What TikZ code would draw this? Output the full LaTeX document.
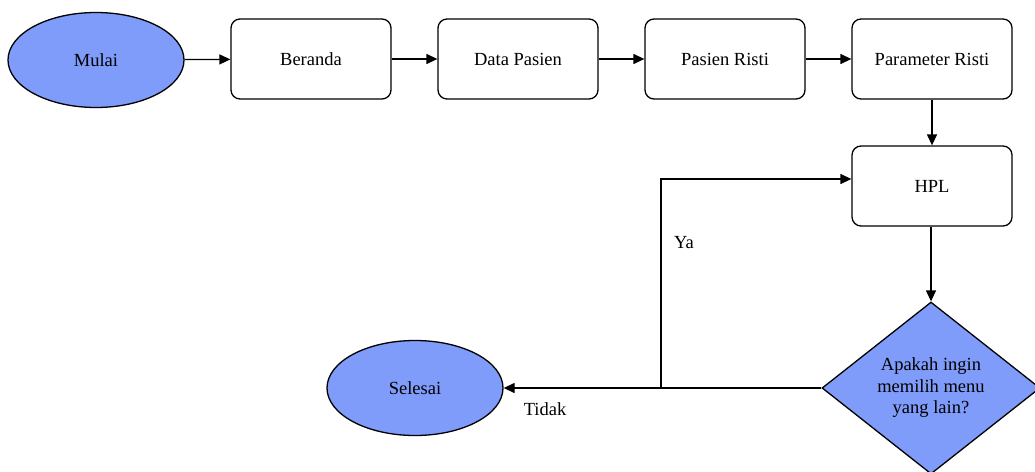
\documentclass[tikz,border=0pt]{standalone}
\usepackage{fontspec}
\setmainfont{Liberation Serif}
\usetikzlibrary{shapes.geometric,arrows.meta}
\definecolor{termblue}{RGB}{128,156,250}
\tikzset{
  every node/.style={font=\fontsize{18.5}{21.5}\selectfont},
  terminal/.style={ellipse,draw,fill=termblue,line width=1.3pt,minimum width=176pt,minimum height=95pt,inner sep=0pt},
  menubox/.style={rectangle,rounded corners=9pt,draw,line width=1.3pt,minimum width=160pt,minimum height=80pt,inner sep=0pt},
  choice/.style={diamond,draw,fill=termblue,line width=1.3pt,minimum width=218pt,minimum height=172pt,inner sep=0pt,align=center},
  flow/.style={line width=1.3pt,-{Triangle[length=11pt,width=10pt]}},
  lbl/.style={inner sep=0pt}
}
\begin{document}
\begin{tikzpicture}[x=1pt,y=-1pt]
\useasboundingbox (0,0) rectangle (1035,471);
\node[terminal] (mulai) at (96,60) {Mulai};
\node[menubox] (beranda) at (311,59) {Beranda};
\node[menubox] (data) at (518,59) {Data Pasien};
\node[menubox] (risti) at (725,59) {Pasien Risti};
\node[menubox] (param) at (932,59) {Parameter Risti};
\node[menubox] (hpl) at (932,186) {HPL};
\node[choice] (tanya) at (931,388) {Apakah ingin\\memilih menu\\yang lain?};
\node[terminal] (selesai) at (415,388) {Selesai};
\coordinate (cabang) at (661,388);
\coordinate (balik) at (661,179);

\draw[flow] (mulai) -- (beranda);
\draw[flow] (beranda) -- (data);
\draw[flow] (data) -- (risti);
\draw[flow] (risti) -- (param);
\draw[flow] (param) -- (hpl);
\draw[flow] (hpl.south -| tanya.north) -- (tanya.north);
\draw[flow] (tanya.west) -- (selesai.east);
\draw[flow] (cabang) -- (balik) -- (balik -| hpl.west);

\node[lbl] (ya) at (684,243) {Ya};
\node[lbl] (tidak) at (545,409) {Tidak};
\end{tikzpicture}
\end{document}
